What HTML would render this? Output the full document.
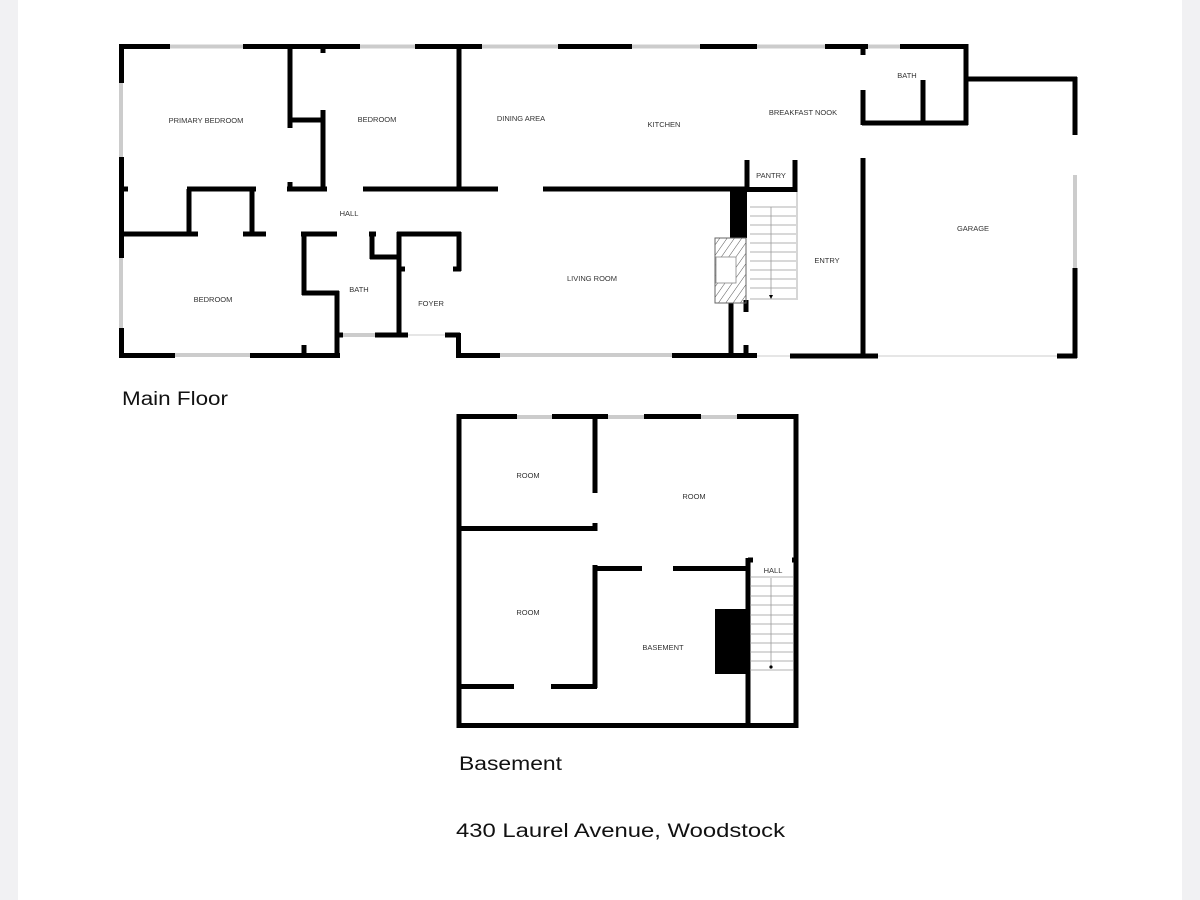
<!DOCTYPE html>
<html><head><meta charset="utf-8"><style>
html,body{margin:0;padding:0;background:#fff;}
body{width:1200px;height:900px;position:relative;overflow:hidden;}
.side{position:absolute;top:0;width:18px;height:900px;background:#f1f1f3;}
svg{position:absolute;left:0;top:0;}
</style></head><body>
<div class="side" style="left:0"></div><div class="side" style="left:1182px"></div>
<svg width="1200" height="900" viewBox="0 0 1200 900" xmlns="http://www.w3.org/2000/svg">
<g stroke="#ccc" stroke-width="4" fill="none">
<line x1="170" y1="46.5" x2="243" y2="46.5"/><line x1="360" y1="46.5" x2="415" y2="46.5"/>
<line x1="482" y1="46.5" x2="558" y2="46.5"/><line x1="632" y1="46.5" x2="700" y2="46.5"/>
<line x1="757" y1="46.5" x2="825" y2="46.5"/><line x1="868" y1="46.5" x2="900" y2="46.5"/>
<line x1="121" y1="83" x2="121" y2="157"/><line x1="121" y1="258" x2="121" y2="328"/>
<line x1="175" y1="355" x2="250" y2="355"/><line x1="343" y1="335" x2="375" y2="335"/>
<line x1="500" y1="355" x2="672" y2="355"/><line x1="1075" y1="175" x2="1075" y2="268"/>
<line x1="517" y1="417" x2="552" y2="417"/><line x1="608" y1="417" x2="644" y2="417"/><line x1="701" y1="417" x2="737" y2="417"/>
</g>
<g stroke="#e6e6e6" stroke-width="2"><line x1="878" y1="356" x2="1057" y2="356"/><line x1="408" y1="335" x2="445" y2="335"/><line x1="757" y1="356" x2="790" y2="356"/></g>
<g stroke="#000" stroke-width="5" fill="none" stroke-linecap="butt">
<line x1="119" y1="46.5" x2="170" y2="46.5"/><line x1="243" y1="46.5" x2="360" y2="46.5"/>
<line x1="415" y1="46.5" x2="482" y2="46.5"/><line x1="558" y1="46.5" x2="632" y2="46.5"/>
<line x1="700" y1="46.5" x2="757" y2="46.5"/><line x1="825" y1="46.5" x2="868" y2="46.5"/>
<line x1="900" y1="46.5" x2="968" y2="46.5"/>
<line x1="966" y1="44" x2="966" y2="125"/><line x1="964" y1="79" x2="1077" y2="79"/>
<line x1="1075" y1="77" x2="1075" y2="135"/><line x1="1075" y1="268" x2="1075" y2="358"/>
<line x1="862" y1="123" x2="968" y2="123"/><line x1="923" y1="80" x2="923" y2="123"/>
<line x1="863" y1="44" x2="863" y2="55"/><line x1="863" y1="90" x2="863" y2="125"/>
<line x1="863" y1="158" x2="863" y2="358"/>
<line x1="790" y1="356" x2="878" y2="356"/><line x1="1057" y1="356" x2="1077" y2="356"/>
<line x1="121.5" y1="44" x2="121.5" y2="83"/><line x1="121.5" y1="157" x2="121.5" y2="258"/><line x1="121.5" y1="328" x2="121.5" y2="358"/>
<line x1="119" y1="355.5" x2="175" y2="355.5"/><line x1="250" y1="355.5" x2="340" y2="355.5"/>
<line x1="338" y1="335" x2="343" y2="335"/><line x1="375" y1="335" x2="408" y2="335"/>
<line x1="445" y1="335" x2="460" y2="335"/><line x1="458.5" y1="333" x2="458.5" y2="358"/>
<line x1="456" y1="355.5" x2="500" y2="355.5"/><line x1="672" y1="355.5" x2="757" y2="355.5"/>
<line x1="290" y1="46" x2="290" y2="128"/><line x1="290" y1="182" x2="290" y2="189"/>
<line x1="323" y1="46" x2="323" y2="53"/><line x1="323" y1="110" x2="323" y2="189"/>
<line x1="290" y1="120" x2="323" y2="120"/>
<line x1="121" y1="189" x2="128" y2="189"/><line x1="187" y1="189" x2="256" y2="189"/>
<line x1="287" y1="189" x2="327" y2="189"/><line x1="363" y1="189" x2="498" y2="189"/>
<line x1="543" y1="189" x2="747" y2="189"/>
<line x1="459" y1="46" x2="459" y2="189"/>
<line x1="189" y1="189" x2="189" y2="234"/><line x1="252" y1="189" x2="252" y2="234"/>
<line x1="121" y1="234" x2="198" y2="234"/><line x1="243" y1="234" x2="266" y2="234"/>
<line x1="301" y1="234" x2="337" y2="234"/><line x1="369" y1="234" x2="376" y2="234"/>
<line x1="397" y1="234" x2="461" y2="234"/>
<line x1="304" y1="232" x2="304" y2="295"/><line x1="302" y1="293" x2="339" y2="293"/>
<line x1="337" y1="291" x2="337" y2="358"/><line x1="304" y1="345" x2="304" y2="356"/>
<line x1="372" y1="232" x2="372" y2="259"/><line x1="370" y1="257" x2="399" y2="257"/>
<line x1="399" y1="232" x2="399" y2="337"/>
<line x1="459" y1="232" x2="459" y2="271"/><line x1="397" y1="269" x2="405" y2="269"/><line x1="453" y1="269" x2="461" y2="269"/>
<line x1="747" y1="160" x2="747" y2="192"/><line x1="795" y1="160" x2="795" y2="192"/><line x1="745" y1="189.5" x2="797" y2="189.5"/>
<line x1="746" y1="300" x2="746" y2="312"/><line x1="746" y1="345" x2="746" y2="358"/>
<line x1="731" y1="303" x2="731" y2="358"/>
<line x1="456.5" y1="416.5" x2="517" y2="416.5"/><line x1="552" y1="416.5" x2="608" y2="416.5"/>
<line x1="644" y1="416.5" x2="701" y2="416.5"/><line x1="737" y1="416.5" x2="798.5" y2="416.5"/>
<line x1="459" y1="414" x2="459" y2="728"/><line x1="796" y1="414" x2="796" y2="728"/>
<line x1="456.5" y1="725.5" x2="798.5" y2="725.5"/>
<line x1="595" y1="416" x2="595" y2="493"/><line x1="595" y1="523" x2="595" y2="531"/><line x1="595" y1="565" x2="595" y2="688"/>
<line x1="459" y1="528.5" x2="597" y2="528.5"/>
<line x1="593" y1="568.5" x2="642" y2="568.5"/><line x1="673" y1="568.5" x2="750" y2="568.5"/>
<line x1="748" y1="558" x2="748" y2="726"/><line x1="748" y1="560" x2="753" y2="560"/><line x1="792" y1="560" x2="796" y2="560"/>
<line x1="459" y1="686.5" x2="514" y2="686.5"/><line x1="551" y1="686.5" x2="597" y2="686.5"/>
</g>
<rect x="730" y="189" width="17" height="49" fill="#000"/>
<defs><pattern id="h" width="6" height="6" patternUnits="userSpaceOnUse" patternTransform="rotate(35)"><line x1="0" y1="0" x2="0" y2="6" stroke="#555" stroke-width="1"/></pattern></defs>
<rect x="715" y="238" width="31" height="65" fill="url(#h)" stroke="#666" stroke-width="1"/>
<rect x="716" y="257" width="20" height="26" fill="#fff" stroke="#888" stroke-width="0.8"/>
<g stroke="#999" stroke-width="0.8">
<line x1="797" y1="192" x2="797" y2="300"/>
<line x1="750" y1="207" x2="796" y2="207"/><line x1="750" y1="216" x2="796" y2="216"/><line x1="750" y1="225" x2="796" y2="225"/><line x1="750" y1="234" x2="796" y2="234"/><line x1="750" y1="243" x2="796" y2="243"/><line x1="750" y1="252" x2="796" y2="252"/><line x1="750" y1="261" x2="796" y2="261"/><line x1="750" y1="270" x2="796" y2="270"/><line x1="750" y1="279" x2="796" y2="279"/><line x1="750" y1="288" x2="796" y2="288"/><line x1="750" y1="299" x2="796" y2="299"/>
<line x1="771" y1="207" x2="771" y2="296"/>
</g>
<polygon points="769,295 773,295 771,299" fill="#000"/>
<rect x="715" y="609" width="33" height="65" fill="#000"/>
<g stroke="#999" stroke-width="0.8">
<line x1="750" y1="577" x2="793" y2="577"/><line x1="750" y1="586" x2="793" y2="586"/><line x1="750" y1="596" x2="793" y2="596"/><line x1="750" y1="605" x2="793" y2="605"/><line x1="750" y1="615" x2="793" y2="615"/><line x1="750" y1="624" x2="793" y2="624"/><line x1="750" y1="634" x2="793" y2="634"/><line x1="750" y1="643" x2="793" y2="643"/><line x1="750" y1="652" x2="793" y2="652"/><line x1="750" y1="661" x2="793" y2="661"/><line x1="750" y1="670" x2="793" y2="670"/>
<line x1="771" y1="578" x2="771" y2="666"/>
</g>
<circle cx="771" cy="667" r="1.6" fill="#000"/>
<g font-family="Liberation Sans, sans-serif" font-size="7.5" fill="#333" text-anchor="middle">
<text x="206" y="123">PRIMARY BEDROOM</text><text x="377" y="122">BEDROOM</text>
<text x="521" y="121">DINING AREA</text><text x="664" y="127">KITCHEN</text>
<text x="803" y="115">BREAKFAST NOOK</text><text x="907" y="78">BATH</text>
<text x="771" y="178">PANTRY</text><text x="349" y="216">HALL</text>
<text x="213" y="302">BEDROOM</text><text x="359" y="292">BATH</text>
<text x="431" y="306">FOYER</text><text x="592" y="281">LIVING ROOM</text>
<text x="827" y="263">ENTRY</text><text x="973" y="231">GARAGE</text>
<text x="528" y="478">ROOM</text><text x="694" y="499">ROOM</text>
<text x="528" y="615">ROOM</text><text x="663" y="650">BASEMENT</text>
<text x="773" y="573">HALL</text>
</g>
<g font-family="Liberation Sans, sans-serif" font-size="19" fill="#111">
<text x="122" y="405" textLength="106" lengthAdjust="spacingAndGlyphs">Main Floor</text>
<text x="459" y="770" textLength="103" lengthAdjust="spacingAndGlyphs">Basement</text>
<text x="456" y="837" textLength="329" lengthAdjust="spacingAndGlyphs">430 Laurel Avenue, Woodstock</text>
</g>
</svg>
</body></html>
